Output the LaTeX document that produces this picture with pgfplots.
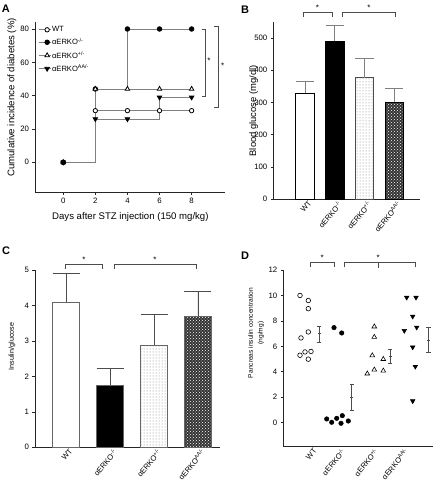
\documentclass[border=0pt]{standalone}
\usepackage{fontspec}
\setmainfont{Liberation Sans}
\usepackage{pgfplots}
\pgfplotsset{compat=1.18}
\usetikzlibrary{patterns}
\newcommand{\fs}[1]{\fontsize{#1}{#1}\selectfont}
\definecolor{lgray}{gray}{0.5}
\definecolor{dgray}{gray}{0.3}
\pgfplotsset{
 panel/.style={
  scale only axis, clip=false,
  axis x line*=bottom, axis y line*=left,
  axis line style={black!85, line width=0.7pt},
  tick style={black!85, line width=0.6pt},
  tick align=outside, major tick length=2.5pt,
  /pgf/number format/assume math mode=true,
  tick label style={font=\fs{7.8}},
  label style={font=\fs{9.6}},
 },
 catticks/.style={
  xtick style={draw=none},
  xticklabel style={rotate=50, anchor=north east, font=\fs{7.6}, xshift=4pt, inner sep=1pt},
 },
}
\newcommand{\sig}{\textsuperscript}
\begin{document}
\begin{tikzpicture}
\path[use as bounding box] (0,0) rectangle (433pt,490pt);
% ---------------- A
\begin{axis}[panel, at={(35pt,297.7pt)}, anchor=south west, width=190pt, height=170.3pt,
 xmin=-1.76, xmax=10.08, ymin=-18, ymax=84.2,
 xtick={0,2,4,6,8}, ytick={0,20,40,60,80},
 xlabel={Days after STZ injection (150 mg/kg)},
 ylabel={Cumulative incidence of diabetes (\%)},
 xlabel style={at={(axis description cs:0.502,-0.143)}, anchor=center},
 ylabel style={at={(axis description cs:-0.121,0.557)}, anchor=center},
 legend style={at={(axis description cs:0.016,0.978)}, anchor=north west, draw=none, fill=none,
   font=\fs{7.6}, row sep=4pt, inner sep=0pt, nodes={inner sep=0.5pt}, cells={anchor=west}},
 legend image code/.code={\draw[mark repeat=2, mark phase=2, #1] plot coordinates {(0pt,0pt) (8.5pt,0pt) (12.5pt,0pt)};},
]
\addplot[const plot, lgray, line width=0.8pt, mark=*, mark size=2.2pt, mark options={draw=black, fill=white, solid}]
 coordinates {(0,0) (2,31) (4,31) (6,31) (8,31)};
\addplot[const plot, lgray, line width=0.8pt, mark=*, mark size=2.3pt, mark options={draw=black, fill=black, solid}]
 coordinates {(0,0) (2,44) (4,80) (6,80) (8,80)};
\addplot[const plot, lgray, line width=0.8pt, mark=triangle*, mark size=2.6pt, mark options={draw=black, fill=white, solid}]
 coordinates {(0,0) (2,44) (4,44) (6,44) (8,44)};
\addplot[const plot, lgray, line width=0.8pt, mark=triangle*, mark size=2.6pt, mark options={draw=black, fill=black, solid, rotate=180}]
 coordinates {(0,0) (2,26) (4,26) (6,39) (8,39)};
\legend{WT, αERKO\sig{-/-}, αERKO\sig{+/-}, αERKO\sig{AA/-}}
\draw[dgray, line width=0.7pt] (axis cs:8.63,80) -- (axis cs:8.83,80) -- (axis cs:8.83,39.4) -- (axis cs:8.63,39.4);
\draw[dgray, line width=0.7pt] (axis cs:9.41,81.4) -- (axis cs:9.66,81.4) -- (axis cs:9.66,33) -- (axis cs:9.41,33);
\node[font=\fs{8}] at (axis cs:9.08,61) {*};
\node[font=\fs{8}] at (axis cs:9.94,58) {*};
\end{axis}
\node[font=\bfseries\fs{11}, anchor=north west, inner sep=0pt] at (1.7pt,485pt) {A};
% ---------------- B
\begin{axis}[panel, catticks, at={(273.3pt,290.7pt)}, anchor=south west, width=146.7pt, height=177.6pt,
 xmin=-1.07, xmax=3.87, ymin=0, ymax=550,
 ytick={0,100,200,300,400,500}, xtick={0,1,2,3},
 xticklabels={WT, αERKO\sig{-/-}, αERKO\sig{+/-}, αERKO\sig{AA/-}},
 ylabel={Blood glucose (mg/dl)},
 ylabel style={at={(axis description cs:-0.134,0.498)}, anchor=center, font=\fs{9.4}},
 ybar, bar width=18.5pt, bar shift=0pt,
 error bars/y dir=plus, error bars/y explicit,
 error bars/error bar style={lgray, line width=0.8pt},
 error bars/error mark options={lgray, rotate=90, mark size=9.25pt, line width=0.8pt},
]
\addplot[bar shift=0pt, fill=white, draw=black, line width=0.7pt] coordinates {(0,328) +- (0,36)};
\addplot[bar shift=0pt, fill=black, draw=black, line width=0.7pt] coordinates {(1,490) +- (0,48)};
\addplot[bar shift=0pt, draw=black!70, line width=0.7pt, preaction={fill=white}, pattern=dots, pattern color=gray] coordinates {(2,377) +- (0,59)};
\addplot[bar shift=0pt, draw=black, line width=0.7pt, preaction={fill=black!80}, pattern=crosshatch dots, pattern color=white] coordinates {(3,300) +- (0,44)};
\draw[dgray, line width=0.7pt] (axis cs:-0.07,565) -- (axis cs:-0.07,580) -- (axis cs:0.91,580) -- (axis cs:0.91,565);
\draw[dgray, line width=0.7pt] (axis cs:1.27,565) -- (axis cs:1.27,580) -- (axis cs:3.05,580) -- (axis cs:3.05,565);
\node[font=\fs{8}] at (axis cs:0.42,594) {*};
\node[font=\fs{8}] at (axis cs:2.15,594) {*};
\end{axis}
\node[font=\bfseries\fs{11}, anchor=north west, inner sep=0pt] at (241pt,484pt) {B};
% ---------------- C
\begin{axis}[panel, catticks, at={(35pt,42.7pt)}, anchor=south west, width=185pt, height=177.3pt,
 xmin=-0.705, xmax=3.5, ymin=0, ymax=5,
 ytick={0,1,2,3,4,5}, xtick={0,1,2,3},
 xticklabels={WT, αERKO\sig{-/-}, αERKO\sig{+/-}, αERKO\sig{AA/-}},
 ylabel={Insulin/glucose},
 ylabel style={at={(axis description cs:-0.124,0.569)}, anchor=center, font=\fs{7.2}},
 ybar, bar width=27pt, bar shift=0pt,
 error bars/y dir=plus, error bars/y explicit,
 error bars/error bar style={dgray, line width=0.8pt},
 error bars/error mark options={dgray, rotate=90, mark size=13.5pt, line width=0.8pt},
]
\addplot[bar shift=0pt, fill=white, draw=black!60, line width=0.8pt] coordinates {(0,4.1) +- (0,0.8)};
\addplot[bar shift=0pt, fill=black, draw=black!60, line width=0.8pt] coordinates {(1,1.75) +- (0,0.47)};
\addplot[bar shift=0pt, draw=black!60, line width=0.8pt, preaction={fill=white}, pattern=dots, pattern color=gray] coordinates {(2,2.88) +- (0,0.87)};
\addplot[bar shift=0pt, draw=black!60, line width=0.8pt, preaction={fill=black!80}, pattern=crosshatch dots, pattern color=white] coordinates {(3,3.7) +- (0,0.7)};
\draw[dgray, line width=0.7pt] (axis cs:-0.02,5.04) -- (axis cs:-0.02,5.16) -- (axis cs:0.83,5.16) -- (axis cs:0.83,5.04);
\draw[dgray, line width=0.7pt] (axis cs:1.09,5.04) -- (axis cs:1.09,5.16) -- (axis cs:2.97,5.16) -- (axis cs:2.97,5.04);
\node[font=\fs{8}] at (axis cs:0.41,5.29) {*};
\node[font=\fs{8}] at (axis cs:2.02,5.29) {*};
\end{axis}
\node[font=\bfseries\fs{11}, anchor=north west, inner sep=0pt] at (2pt,243pt) {C};
% ---------------- D
\begin{axis}[panel, catticks, at={(283.3pt,43.3pt)}, anchor=south west, width=150pt, height=176.7pt,
 xmin=0, xmax=150, ymin=-1.89, ymax=12,
 ytick={0,2,4,6,8,10,12}, xtick={27,55,88,118},
 xticklabels={WT, αERKO\sig{-/-}, αERKO\sig{+/-}, αERKO\sig{AA/-}},
 ylabel={Pancreas insulin concentration\\(ng/mg)},
 ylabel style={at={(axis description cs:-0.182,0.643)}, anchor=center, align=center, font=\fontsize{6.6}{9.6}\selectfont},
 error bars/error bar style={dgray, line width=0.7pt},
 error bars/error mark options={dgray, rotate=90, mark size=2.2pt, line width=0.7pt},
]
\addplot[only marks, mark=*, mark size=2.3pt, mark options={draw=black, fill=white, line width=0.6pt}] coordinates {
 (16.7,10.0) (25,9.6) (25,8.96) (25,7.13) (17.7,6.66) (16.7,5.3) (21.7,5.56) (27.7,5.6) (25,4.99)};
\addplot[only marks, mark=*, mark size=2.3pt, mark options={draw=black, fill=black}] coordinates {
 (50.7,7.47) (58.4,7.05) (43.4,0.29) (48.4,0.03) (53.4,0.34) (59,0.55) (57.7,-0.05) (65,0.13)};
\addplot[only marks, mark=triangle*, mark size=2.7pt, mark options={draw=black, fill=white, line width=0.6pt}] coordinates {
 (91,7.55) (91,6.73) (89,5.28) (100,4.99) (84,3.85) (91,4.16) (100,4.08)};
\addplot[only marks, mark=triangle*, mark size=2.7pt, mark options={draw=black, fill=black, rotate=180}] coordinates {
 (123.4,9.84) (132.7,9.84) (129.4,8.35) (121,7.23) (133.4,7.49) (129.4,5.93) (132,4.41) (129.4,1.7)};
\addplot[only marks, mark=-, mark size=1.5pt, mark options={dgray, line width=0.7pt},
 error bars/y dir=both, error bars/y explicit] coordinates {
 (35.7,7.0) += (0,0.55) -= (0,0.7)
 (68.4,2.0) += (0,1.0) -= (0,1.0)
 (106.7,5.22) += (0,0.53) -= (0,0.57)
 (145,6.5) += (0,0.97) -= (0,1.0)};
\draw[dgray, line width=0.7pt] (axis cs:27.4,12.21) -- (axis cs:27.4,12.57) -- (axis cs:50.7,12.57) -- (axis cs:50.7,12.21);
\draw[dgray, line width=0.7pt] (axis cs:60.7,12.21) -- (axis cs:60.7,12.57) -- (axis cs:131.7,12.57) -- (axis cs:131.7,12.21);
\draw[dgray, line width=0.7pt] (axis cs:95,12.57) -- (axis cs:95,12.15);
\node[font=\fs{8}] at (axis cs:39,12.95) {*};
\node[font=\fs{8}] at (axis cs:95,12.95) {*};
\end{axis}
\node[font=\bfseries\fs{11}, anchor=north west, inner sep=0pt] at (241pt,238pt) {D};
\end{tikzpicture}
\end{document}
